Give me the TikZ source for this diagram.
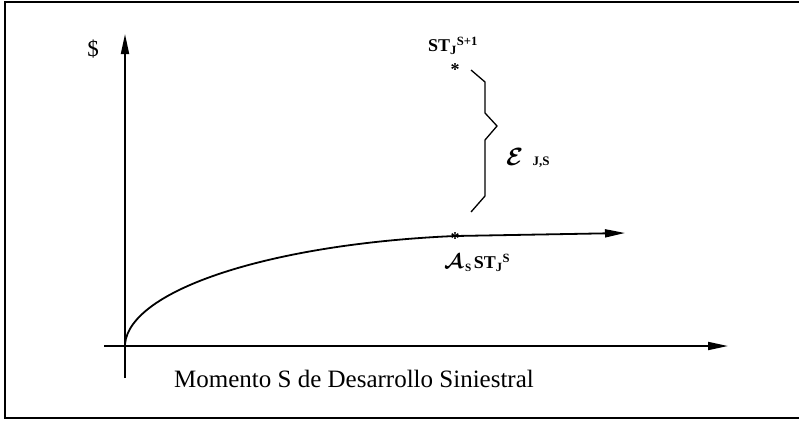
\documentclass[tikz,border=0pt]{standalone}
\usepackage{fontspec}
\setmainfont{Liberation Serif}
\usepackage{amsmath,bm}
\usetikzlibrary{arrows.meta}

\begin{document}
\begin{tikzpicture}[
        x=1pt, y=-1pt,
        eje/.style={-{Triangle[length=20pt,width=8pt]}, line width=1.8pt},
        curva/.style={-{Triangle[length=20pt,width=8pt]}, line width=1.8pt},
        marco/.style={line width=2.2pt},
        llave/.style={line width=1.3pt},
        etiq/.style={inner sep=0pt, font=\fontsize{18}{20}\selectfont\bfseries},
        punto/.style={inner sep=0pt, font=\fontsize{18}{18}\selectfont\bfseries}
    ]
        \useasboundingbox (0,0) rectangle (799,421);
        \draw[marco] (799,2) -- (5,2) -- (5,418) -- (799,418);

        % ejes
        \coordinate (o) at (125,346);
        \coordinate (ybot) at (125,378);
        \coordinate (ytop) at (125,34);
        \coordinate (xizq) at (104,346);
        \coordinate (xder) at (728,346);
        \draw[eje] (ybot) -- (ytop);
        \draw[eje] (xizq) -- (xder);
        \node[font=\fontsize{23}{24}\selectfont] (pesos) at (93,49) {\$};
        \node[font=\fontsize{25}{30}\selectfont] (momento) at (354,379) {Momento S de Desarrollo Siniestral};

        % curva
        \coordinate (c0) at (125,344);
        \coordinate (cs) at (455,236);
        \coordinate (cfin) at (625,233);
        \draw[curva] (c0) .. controls (130,290) and (270,244) .. (cs) -- (cfin);

        % puntos y etiquetas
        \node[punto] (ps1) at (455,70) {*};
        \node[punto] (ps) at (455,239) {*};
        \node[etiq] (st1) at (453,46) {ST\textsubscript{J}\textsuperscript{S+1}};
        \node[etiq, anchor=west] (st) at (444,263) {\fontsize{22}{22}\selectfont$\bm{\mathcal{A}}$\fontsize{16}{18}\selectfont\textsubscript{\,S\,}\fontsize{18}{20}\selectfont ST\textsubscript{J}\textsuperscript{S}};

        % llave
        \coordinate (l1) at (471,70);
        \coordinate (l2) at (485,82);
        \coordinate (l3) at (485,113);
        \coordinate (l4) at (497,126);
        \coordinate (l5) at (485,140);
        \coordinate (l6) at (485,196);
        \coordinate (l7) at (471,212);
        \draw[llave] (l1) -- (l2) -- (l3) -- (l4) -- (l5) -- (l6) -- (l7);
        \node[anchor=west, inner sep=0pt] (eps) at (506,158) {\fontsize{28}{30}\selectfont$\bm{\mathcal{E}}$\,\,\fontsize{13}{14}\selectfont\bfseries J,S};
    \end{tikzpicture}
\end{document}
